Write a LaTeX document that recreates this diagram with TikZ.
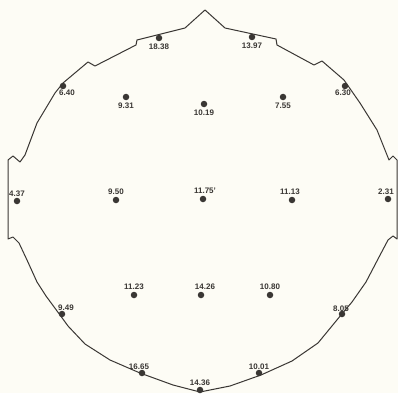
\documentclass[tikz,border=0pt]{standalone}
\usepackage{fontspec}
\setsansfont{Liberation Sans}
\usetikzlibrary{positioning}
\definecolor{ink}{RGB}{58,55,52}
\definecolor{paper}{RGB}{253,252,245}

\begin{document}
\begin{tikzpicture}
    [x=1pt, y=-1pt,
    node distance =2pt,
    electrode/.style={inner sep=0pt, minimum size=6.5pt, circle, fill=ink},
    value/.style={inner sep=0pt, text=ink, font=\sffamily\bfseries\fontsize{8}{8}\selectfont},
    outline/.style={draw=ink, line width=1pt, line join=round}]
        \fill[paper] (0,0) rectangle (398,393);
        \useasboundingbox (0,0) rectangle (398,393);
        %% Head outline
        \draw[outline] (205,10) -- (225,28) -- (276,39) -- (277,45) -- (314,65)
            -- (322,61) -- (344,80) -- (360,103) -- (377,130) -- (389,160)
            -- (393,156) -- (397,160) -- (397,239) -- (393,236) -- (388,240)
            -- (378,259) -- (366,282) -- (352,302) -- (341,315) -- (318,343)
            -- (292,361) -- (261,375) -- (230,386) -- (200,392) -- (173,385)
            -- (140,373) -- (110,360) -- (85,344) -- (68,326) -- (60,315)
            -- (46,296) -- (37,282) -- (27,260) -- (19,243) -- (13,237)
            -- (8,239) -- (8,160) -- (13,156) -- (20,162) -- (25,155)
            -- (37,123) -- (55,93) -- (63,83) -- (88,62) -- (95,66)
            -- (136,45) -- (137,40) -- (185,28) -- cycle;
        %% Front row
        \node[electrode] (Fpl) at (159,38) {};
        \node[electrode] (Fpr) at (252,37) {};
        \node[electrode] (Fl) at (63,86) {};
        \node[electrode] (Fr) at (345,86) {};
        \node[electrode] (Fcl) at (126,97) {};
        \node[electrode] (Fz) at (204,104) {};
        \node[electrode] (Fcr) at (283,97) {};
        %% Middle row
        \node[electrode] (Tl) at (17,201) {};
        \node[electrode] (Cl) at (116,200) {};
        \node[electrode] (Cz) at (203,199) {};
        \node[electrode] (Cr) at (292,200) {};
        \node[electrode] (Tr) at (388,199) {};
        %% Back rows
        \node[electrode] (Pl) at (134,295) {};
        \node[electrode] (Pz) at (201,295) {};
        \node[electrode] (Pr) at (270,295) {};
        \node[electrode] (Tpl) at (62,314) {};
        \node[electrode] (Tpr) at (342,314) {};
        \node[electrode] (Ol) at (142,373) {};
        \node[electrode] (Or) at (259,373) {};
        \node[electrode] (Oz) at (200,390) {};

        %% Values
        \node[value, below = of Fpl] (vFpl) {18.38};
        \node[value, below = of Fpr] (vFpr) {13.97};
        \node[value, below = 0pt of Fl, xshift=4pt] (vFl) {6.40};
        \node[value, below = 0pt of Fr, xshift=-2pt] (vFr) {6.30};
        \node[value, below = of Fcl] (vFcl) {9.31};
        \node[value, below = of Fz] (vFz) {10.19};
        \node[value, below = of Fcr] (vFcr) {7.55};
        \node[value, above = 1pt of Tl] (vTl) {4.37};
        \node[value, above = of Cl] (vCl) {9.50};
        \node[value, above = of Cz, xshift=2pt] (vCz) {11.75'};
        \node[value, above = of Cr, xshift=-2pt] (vCr) {11.13};
        \node[value, above = 1pt of Tr, xshift=-2pt] (vTr) {2.31};
        \node[value, above = of Pl] (vPl) {11.23};
        \node[value, above = of Pz, xshift=4pt] (vPz) {14.26};
        \node[value, above = of Pr] (vPr) {10.80};
        \node[value, above = 0pt of Tpl, xshift=4pt] (vTpl) {9.49};
        \node[value, above = -1pt of Tpr, xshift=-1pt] (vTpr) {8.05};
        \node[value, above = 0pt of Ol, xshift=-3pt] (vOl) {16.65};
        \node[value, above = 0pt of Or] (vOr) {10.01};
        \node[value, above = 1pt of Oz] (vOz) {14.36};
\end{tikzpicture}
\end{document}
